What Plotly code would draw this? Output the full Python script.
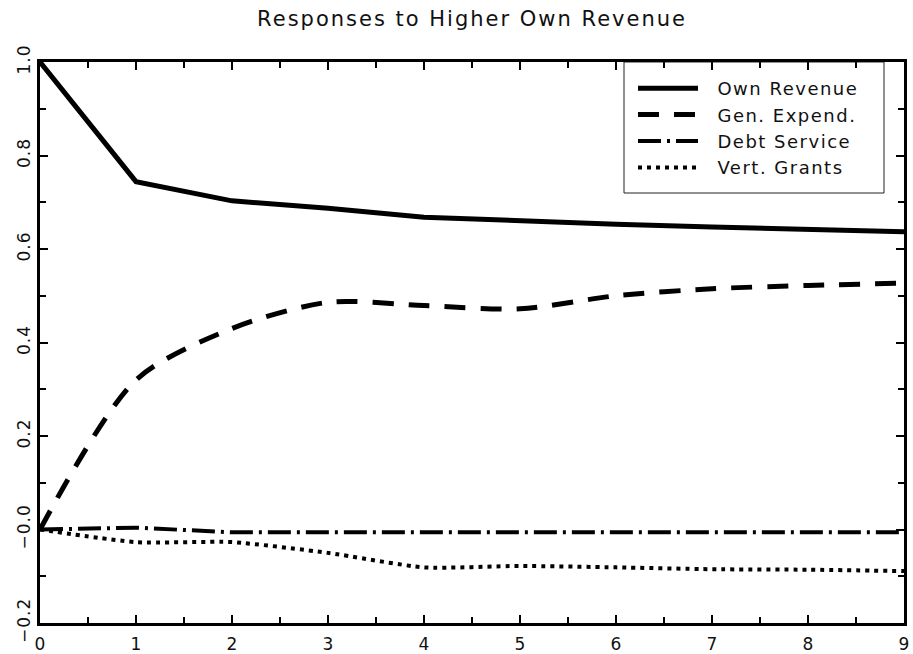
import plotly.graph_objects as go

periods = [0, 1, 2, 3, 4, 5, 6, 7, 8, 9]
own_revenue = [1.0, 0.744, 0.703, 0.687, 0.668, 0.660, 0.653, 0.647, 0.641, 0.637]
gen_expend = [0.0, 0.320, 0.430, 0.486, 0.479, 0.472, 0.500, 0.515, 0.522, 0.527]
debt_service = [0.0, 0.004, -0.006, -0.006, -0.005, -0.004, -0.004, -0.004, -0.006, -0.006]
vert_grants = [0.0, -0.027, -0.027, -0.050, -0.081, -0.078, -0.081, -0.085, -0.086, -0.089]

series_names = ["Own Revenue", "Gen. Expend.", "Debt Service", "Vert. Grants"]
title_text = "Responses to Higher Own Revenue"
y_tickvals = [-0.2, 0.0, 0.2, 0.4, 0.6, 0.8, 1.0]
y_ticktext = ["\u22120.2", "\u22120.0", "0.2", "0.4", "0.6", "0.8", "1.0"]
x_tickvals = periods
x_ticktext = [str(p) for p in periods]

FONT = "DejaVu Sans"


def spaced(text, px):
    return "<span style='letter-spacing:%spx'>%s</span>" % (px, text)


def legend_name(text):
    return spaced("\u00a0\u00a0" + text, 1.5)


fig = go.Figure()
fig.add_trace(go.Scatter(x=periods, y=own_revenue, mode="lines", name=legend_name(series_names[0]),
                         line=dict(color="black", width=5, dash="solid")))
fig.add_trace(go.Scatter(x=periods, y=gen_expend, mode="lines", name=legend_name(series_names[1]),
                         line=dict(color="black", width=5, dash="21px,15px", shape="spline", smoothing=0.8)))
fig.add_trace(go.Scatter(x=periods, y=debt_service, mode="lines", name=legend_name(series_names[2]),
                         line=dict(color="black", width=4, dash="23px,6px,3px,6px")))
fig.add_trace(go.Scatter(x=periods, y=vert_grants, mode="lines", name=legend_name(series_names[3]),
                         line=dict(color="black", width=4, dash="4px,5px", shape="spline", smoothing=0.6)))

axis_common = dict(
    showgrid=False, zeroline=False, showline=True, linecolor="black", linewidth=3,
    mirror="ticks", ticks="inside", ticklen=8, tickwidth=1.5, tickcolor="black",
    tickfont=dict(family=FONT, size=17, color="#111"), automargin=False,
)

fig.update_xaxes(range=[0, 9], tickvals=x_tickvals, ticktext=[spaced(t, 0) for t in x_ticktext],
                 minor=dict(dtick=0.5, ticks="inside", ticklen=6, tickwidth=1.5, tickcolor="black"),
                 ticklabelstandoff=4, **axis_common)
fig.update_yaxes(range=[-0.2, 1.0], tickvals=y_tickvals, ticktext=[spaced(t, 1) for t in y_ticktext],
                 tickangle=-90,
                 minor=dict(dtick=0.1, tick0=0, ticks="inside", ticklen=6, tickwidth=1.5, tickcolor="black"),
                 ticklabelstandoff=0, **axis_common)

fig.add_shape(type="rect", xref="paper", yref="paper",
              x0=(624 - 40) / 864, x1=(884 - 40) / 864, y0=1 - (193 - 62) / 561, y1=1.0,
              line=dict(color="#222", width=1), fillcolor="white", layer="below")

fig.update_layout(
    width=913, height=654,
    margin=dict(l=40, r=9, t=62, b=31),
    paper_bgcolor="white", plot_bgcolor="white",
    title=dict(text=spaced(title_text, 2.0), x=0.5, xref="paper",
               y=1 - 19 / 654, yref="container", xanchor="center", yanchor="middle",
               font=dict(family=FONT, size=21, color="#111")),
    legend=dict(x=(633 - 40) / 864, y=1 - 8 / 561, xanchor="left", yanchor="top", xref="paper", yref="paper",
                bgcolor="rgba(0,0,0,0)", borderwidth=0,
                font=dict(family=FONT, size=18, color="#111"),
                itemwidth=60, tracegroupgap=0),
    showlegend=True,
)

fig.write_html("out.html",
               config={"displayModeBar": False},
               post_script="document.body.style.margin='0px';document.body.style.overflow='hidden';")
